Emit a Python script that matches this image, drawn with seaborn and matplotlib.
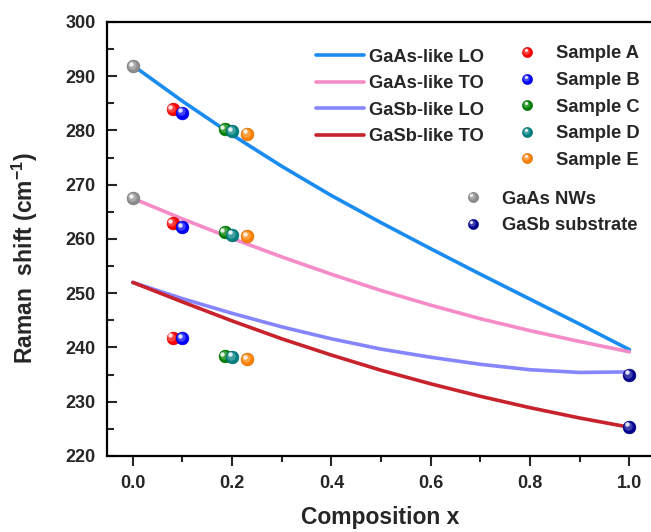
import matplotlib
matplotlib.use('Agg')
import matplotlib.pyplot as plt
import matplotlib.transforms as mtransforms
from matplotlib.colors import to_rgb
from matplotlib.lines import Line2D
from matplotlib.legend_handler import HandlerBase
from matplotlib.ticker import MultipleLocator
import seaborn as sns
import pandas as pd

# calculated phonon branches
comp_x = [0.0, 0.1, 0.2, 0.3, 0.4, 0.5, 0.6, 0.7, 0.8, 0.9, 1.0]
gaas_lo = [292.0, 285.4, 279.2, 273.4, 268.0, 263.0, 258.2, 253.5, 248.9, 244.3, 239.6]
gaas_to = [267.5, 263.7, 260.1, 256.7, 253.5, 250.5, 247.8, 245.3, 243.1, 241.1, 239.2]
gasb_lo = [252.0, 249.0, 246.3, 243.8, 241.6, 239.7, 238.2, 236.9, 235.9, 235.4, 235.5]
gasb_to = [252.0, 248.4, 244.9, 241.6, 238.6, 235.8, 233.3, 231.0, 228.9, 227.0, 225.3]
branch_names = ['GaAs-like LO', 'GaAs-like TO', 'GaSb-like LO', 'GaSb-like TO']
branch_colors = ['#1a8cf0', '#f58cc8', '#8585ff', '#c8232d']

# measured samples
sample_names = ['Sample A', 'Sample B', 'Sample C', 'Sample D', 'Sample E']
sample_x = [0.08, 0.10, 0.185, 0.20, 0.23]
sample_gaas_lo = [283.9, 283.3, 280.2, 279.9, 279.4]
sample_gaas_to = [262.9, 262.2, 261.3, 260.8, 260.5]
sample_gasb = [241.8, 241.7, 238.4, 238.3, 237.8]
sample_colors = ['#ff0000', '#0000ff', '#008000', '#008080', '#ff8000']

# references
ref_names = ['GaAs NWs', 'GaSb substrate']
ref_x = [0.0, 1.0]
ref_values = [[291.9, 267.5], [235.0, 225.4]]
ref_colors = ['#8c8c8c', '#000090']

sns.set_style('ticks')
plt.rcParams['font.family'] = ['Liberation Sans', 'DejaVu Sans']
plt.rcParams['font.weight'] = 'bold'
plt.rcParams['mathtext.fontset'] = 'custom'
plt.rcParams['mathtext.rm'] = 'Liberation Sans:bold'
plt.rcParams['mathtext.default'] = 'rm'

fig = plt.figure(figsize=(6.51, 5.32), dpi=100)
ax = fig.add_axes([107 / 651, 76 / 532, 547.3 / 651, 434 / 532])

curves = pd.DataFrame({'x': comp_x * 4,
                       'y': gaas_lo + gaas_to + gasb_lo + gasb_to,
                       'branch': sum([[n] * len(comp_x) for n in branch_names], [])})
sns.lineplot(data=curves, x='x', y='y', hue='branch', hue_order=branch_names,
             palette=branch_colors, lw=2.6, ax=ax, legend=False, zorder=2)


def shade(c, f):
    r, g, b = to_rgb(c)
    return (r + (1 - r) * f, g + (1 - g) * f, b + (1 - b) * f)


def dark(c, f):
    r, g, b = to_rgb(c)
    return (r * f, g * f, b * f)


def sphere(xs, ys, color, size=85):
    df = pd.DataFrame({'x': xs, 'y': ys})
    sns.scatterplot(data=df, x='x', y='y', s=size, color=color,
                    edgecolor=dark(color, 0.8), linewidth=0.4, ax=ax, zorder=3)
    mid = mtransforms.offset_copy(ax.transData, fig=fig, x=-0.8, y=0.8, units='points')
    ax.scatter(xs, ys, s=size * 0.45, color=shade(color, 0.25), lw=0,
               transform=mid, zorder=3)
    hl = mtransforms.offset_copy(ax.transData, fig=fig, x=-1.6, y=1.7, units='points')
    ax.scatter(xs, ys, s=size * 0.12, color='white', alpha=0.85, lw=0,
               transform=hl, zorder=3)


for i in range(len(ref_names)):
    sphere([ref_x[i]] * 2, ref_values[i], ref_colors[i])
for i in range(len(sample_names)):
    sphere([sample_x[i]] * 3,
           [sample_gaas_lo[i], sample_gaas_to[i], sample_gasb[i]], sample_colors[i])


class SphereHandler(HandlerBase):
    def create_artists(self, legend, orig_handle, xdescent, ydescent,
                       width, height, fontsize, trans):
        c = orig_handle.get_color()
        cx, cy = width / 2 - xdescent, height / 2 - ydescent
        a = Line2D([cx], [cy], marker='o', ms=7.3, color=c, mec=dark(c, 0.8), mew=0.4, ls='')
        b = Line2D([cx - 0.6], [cy + 0.6], marker='o', ms=4.7, color=shade(c, 0.25), mew=0, ls='')
        h = Line2D([cx - 1.2], [cy + 1.3], marker='o', ms=2.3, color='white', alpha=0.85, mew=0, ls='')
        for art in (a, b, h):
            art.set_transform(trans)
        return [a, b, h]


leg_kw = dict(loc='upper left', frameon=False, fontsize=13.2, labelspacing=0.52,
              borderpad=0, borderaxespad=0)

line_handles = [Line2D([], [], color=c, lw=2.6) for c in branch_colors]
fig.legend(line_handles, branch_names, bbox_to_anchor=(316 / 651, 1 - 48.5 / 532),
           handlelength=2.6, handletextpad=0.28, **leg_kw)

samp_handles = [Line2D([], [], color=c) for c in sample_colors]
fig.legend(samp_handles, sample_names, bbox_to_anchor=(518 / 651, 1 - 45.5 / 532),
           handlelength=1.0, handletextpad=1.07,
           handler_map={Line2D: SphereHandler()}, **leg_kw)

ref_handles = [Line2D([], [], color=c) for c in ref_colors]
fig.legend(ref_handles, ref_names, bbox_to_anchor=(463.8 / 651, 1 - 190.5 / 532),
           handlelength=1.0, handletextpad=1.08,
           handler_map={Line2D: SphereHandler()}, **leg_kw)

ax.set_xlim(-0.052, 1.05)
ax.set_ylim(220, 300)
ax.xaxis.set_major_locator(MultipleLocator(0.2))
ax.xaxis.set_minor_locator(MultipleLocator(0.1))
ax.yaxis.set_major_locator(MultipleLocator(10))
ax.yaxis.set_minor_locator(MultipleLocator(5))
ax.tick_params(axis='x', which='major', direction='out', length=7.5, width=1.5,
               labelsize=13, pad=6)
ax.tick_params(axis='x', which='minor', direction='out', length=4, width=1.5)
ax.tick_params(axis='y', which='major', direction='in', length=7.5, width=1.5,
               labelsize=13, pad=8)
ax.tick_params(axis='y', which='minor', direction='in', length=5, width=1.5)
for lab in ax.get_xticklabels() + ax.get_yticklabels():
    lab.set_fontweight('bold')
for sp in ax.spines.values():
    sp.set_linewidth(1.6)
    sp.set_color('black')

ax.set_xlabel('Composition x', fontsize=16.5, fontweight='bold', labelpad=10)
ax.set_ylabel('Raman  shift (cm$^{-1}$)', fontsize=16.5, fontweight='bold')
ax.yaxis.set_label_coords(-0.122, 0.456)

fig.savefig('out.png', dpi=100)
plt.close(fig)
